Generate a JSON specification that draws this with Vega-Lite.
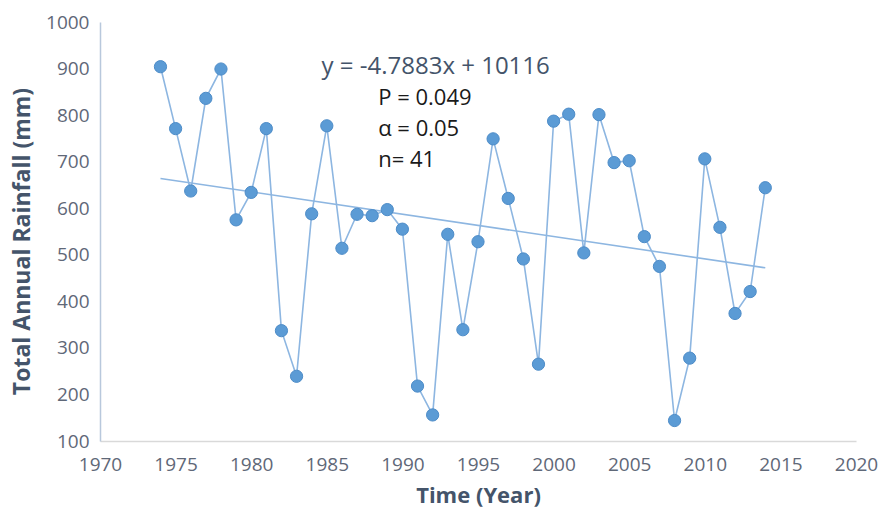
{
  "$schema": "https://vega.github.io/schema/vega-lite/v6.json",
  "width": 756,
  "height": 419,
  "autosize": {"type": "none"},
  "padding": {"left": 100, "top": 22, "right": 26, "bottom": 69},
  "background": "white",
  "config": {
    "view": {"stroke": null},
    "font": "Open Sans"
  },
  "datasets": {
    "rain": [
      {"year": 1974, "rainfall": 904},
      {"year": 1975, "rainfall": 771},
      {"year": 1976, "rainfall": 637},
      {"year": 1977, "rainfall": 836},
      {"year": 1978, "rainfall": 899},
      {"year": 1979, "rainfall": 575},
      {"year": 1980, "rainfall": 634},
      {"year": 1981, "rainfall": 771},
      {"year": 1982, "rainfall": 337},
      {"year": 1983, "rainfall": 239},
      {"year": 1984, "rainfall": 588},
      {"year": 1985, "rainfall": 777},
      {"year": 1986, "rainfall": 514},
      {"year": 1987, "rainfall": 587},
      {"year": 1988, "rainfall": 584},
      {"year": 1989, "rainfall": 597},
      {"year": 1990, "rainfall": 555},
      {"year": 1991, "rainfall": 218},
      {"year": 1992, "rainfall": 156},
      {"year": 1993, "rainfall": 544},
      {"year": 1994, "rainfall": 339},
      {"year": 1995, "rainfall": 528},
      {"year": 1996, "rainfall": 749},
      {"year": 1997, "rainfall": 621},
      {"year": 1998, "rainfall": 491},
      {"year": 1999, "rainfall": 265},
      {"year": 2000, "rainfall": 787},
      {"year": 2001, "rainfall": 802},
      {"year": 2002, "rainfall": 504},
      {"year": 2003, "rainfall": 801},
      {"year": 2004, "rainfall": 698},
      {"year": 2005, "rainfall": 702},
      {"year": 2006, "rainfall": 539},
      {"year": 2007, "rainfall": 475},
      {"year": 2008, "rainfall": 144},
      {"year": 2009, "rainfall": 278},
      {"year": 2010, "rainfall": 706},
      {"year": 2011, "rainfall": 559},
      {"year": 2012, "rainfall": 374},
      {"year": 2013, "rainfall": 421},
      {"year": 2014, "rainfall": 644}
    ],
    "trend": [
      {"year": 1974, "rainfall": 664},
      {"year": 2014, "rainfall": 472}
    ],
    "notes": [
      {"label": "P = 0.049", "year": 1988.4, "rainfall": 837},
      {"label": "α = 0.05", "year": 1988.4, "rainfall": 770},
      {"label": "n= 41", "year": 1988.4, "rainfall": 704}
    ]
  },
  "layer": [
    {
      "data": {"name": "rain"},
      "mark": {"type": "line", "color": "#8DB6E1", "strokeWidth": 1.6},
      "encoding": {
        "x": {
          "field": "year", "type": "quantitative",
          "scale": {"domain": [1970, 2020], "nice": false, "zero": false},
          "axis": {
            "title": "Time (Year)",
            "values": [1970, 1975, 1980, 1985, 1990, 1995, 2000, 2005, 2010, 2015, 2020],
            "format": "d",
            "grid": false,
            "ticks": false,
            "domainColor": "#D9D9D9",
            "domainWidth": 1.5,
            "labelFont": "Open Sans",
            "labelFontSize": 19,
            "labelColor": "#5F6878",
            "labelPadding": 14,
            "labelFlush": false,
            "titleFont": "Open Sans",
            "titleFontSize": 22,
            "titleFontWeight": "bold",
            "titleColor": "#44546A",
            "titleY": 54,
            "titleBaseline": "middle"
          }
        },
        "y": {
          "field": "rainfall", "type": "quantitative",
          "scale": {"domain": [100, 1000], "nice": false, "zero": false},
          "axis": {
            "title": "Total Annual Rainfall (mm)",
            "values": [100, 200, 300, 400, 500, 600, 700, 800, 900, 1000],
            "format": "d",
            "grid": false,
            "ticks": false,
            "domainColor": "#B8C8DC",
            "domainWidth": 1.5,
            "labelFont": "Open Sans",
            "labelFontSize": 19,
            "labelColor": "#5F6878",
            "labelPadding": 11,
            "labelFlush": false,
            "titleFont": "Open Sans",
            "titleFontSize": 23,
            "titleFontWeight": "bold",
            "titleColor": "#44546A",
            "titleX": -78,
            "titleY": 219,
            "titleBaseline": "middle"
          }
        }
      }
    },
    {
      "data": {"name": "trend"},
      "mark": {"type": "line", "color": "#8DB6E1", "strokeWidth": 1.6},
      "encoding": {
        "x": {"field": "year", "type": "quantitative"},
        "y": {"field": "rainfall", "type": "quantitative"}
      }
    },
    {
      "data": {"name": "rain"},
      "mark": {"type": "point", "filled": true, "size": 150, "color": "#5B9BD5", "opacity": 1, "stroke": "#4D8CC8", "strokeWidth": 1},
      "encoding": {
        "x": {"field": "year", "type": "quantitative"},
        "y": {"field": "rainfall", "type": "quantitative"}
      }
    },
    {
      "data": {"values": [{"label": "y = -4.7883x + 10116"}]},
      "mark": {"type": "text", "font": "Open Sans", "fontSize": 24, "color": "#44546A", "align": "center", "baseline": "middle"},
      "encoding": {
        "x": {"datum": 1992.2, "type": "quantitative"},
        "y": {"datum": 903, "type": "quantitative"},
        "text": {"field": "label"}
      }
    },
    {
      "data": {"name": "notes"},
      "mark": {"type": "text", "font": "Open Sans", "fontSize": 22, "color": "#1A1A1A", "align": "left", "baseline": "middle"},
      "encoding": {
        "x": {"field": "year", "type": "quantitative"},
        "y": {"field": "rainfall", "type": "quantitative"},
        "text": {"field": "label"}
      }
    }
  ]
}
